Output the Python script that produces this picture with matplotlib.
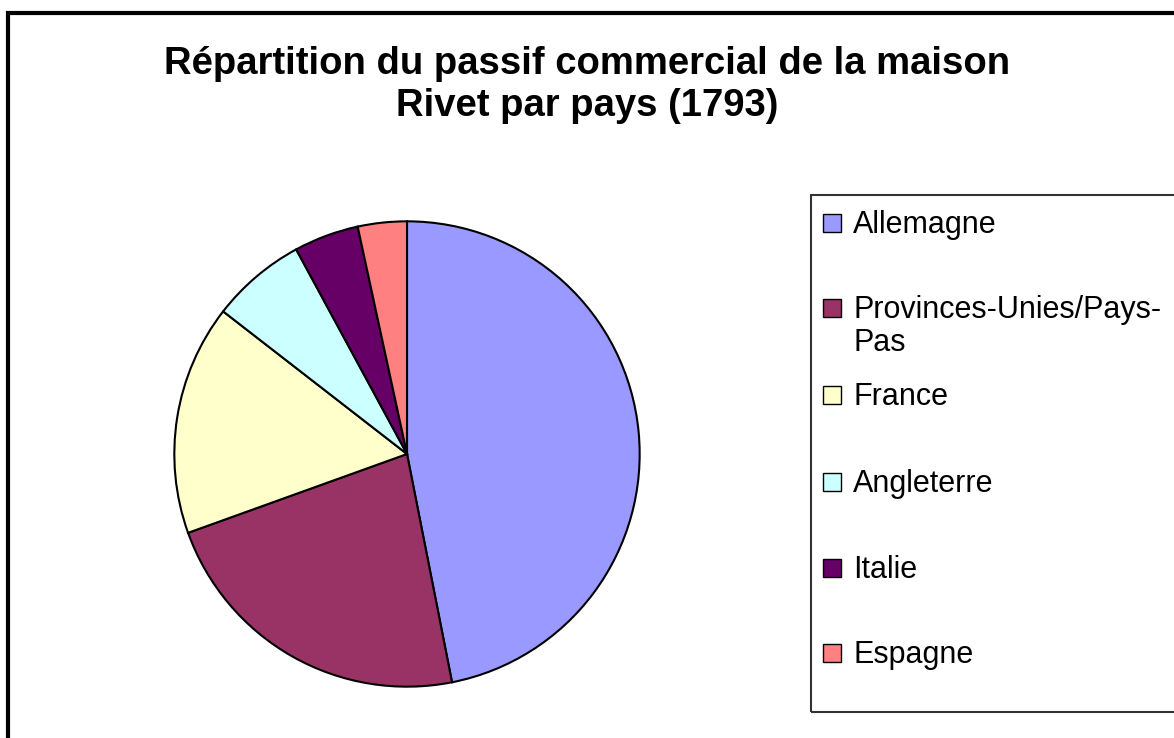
import matplotlib
matplotlib.use("Agg")
import matplotlib.pyplot as plt
from matplotlib.patches import Rectangle

# data (share of the passive, %)
pays = ["Allemagne", "Provinces-Unies/Pays-\nPas", "France", "Angleterre", "Italie", "Espagne"]
parts = [46.9, 22.6, 16.0, 6.6, 4.5, 3.4]
couleurs = ["#9999FF", "#993366", "#FFFFCC", "#CCFFFF", "#660066", "#FF8080"]

W, H = 1174, 738
fig = plt.figure(figsize=(W / 100, H / 100), dpi=100)
plt.rcParams['font.family'] = ['Liberation Sans', 'DejaVu Sans']

# outer chart frame (runs off the right and bottom edges)
fig.patches.append(Rectangle((8 / W, -0.05), 1.2, 1 - 13 / H + 0.05, transform=fig.transFigure,
                             fill=False, edgecolor="black", linewidth=3))

fig.text(587 / W, 1 - 85 / H, "Répartition du passif commercial de la maison\nRivet par pays (1793)",
         ha="center", va="center", fontsize=27.5, fontweight="bold", linespacing=1.2)

# pie
cx, cy, r = 407, 454, 235
ax = fig.add_axes([(cx - r) / W, (H - cy - r) / H, 2 * r / W, 2 * r / H])
ax.pie(parts, colors=couleurs, startangle=90, counterclock=False, radius=1,
       wedgeprops=dict(edgecolor="black", linewidth=1.5))
ax.set_xlim(-1.01, 1.01)
ax.set_ylim(-1.01, 1.01)
ax.set_aspect("equal")
ax.axis("off")

# legend box, drawn like the spreadsheet one
fig.patches.append(Rectangle((811 / W, 1 - 712 / H), 1.0, (712 - 195) / H, transform=fig.transFigure,
                             fill=False, edgecolor="#333333", linewidth=1.5))
ys = [223, 308, 395, 482, 568, 653]
for lab, col, y in zip(pays, couleurs, ys):
    fig.patches.append(Rectangle((823 / W, 1 - (y + 9) / H), 18 / W, 18 / H, transform=fig.transFigure,
                                 facecolor=col, edgecolor="black", linewidth=1))
    fig.text(853 / W, 1 - (y - 13) / H, lab, ha="left", va="top", fontsize=22, linespacing=1.14)

fig.savefig("out.png", dpi=100)
